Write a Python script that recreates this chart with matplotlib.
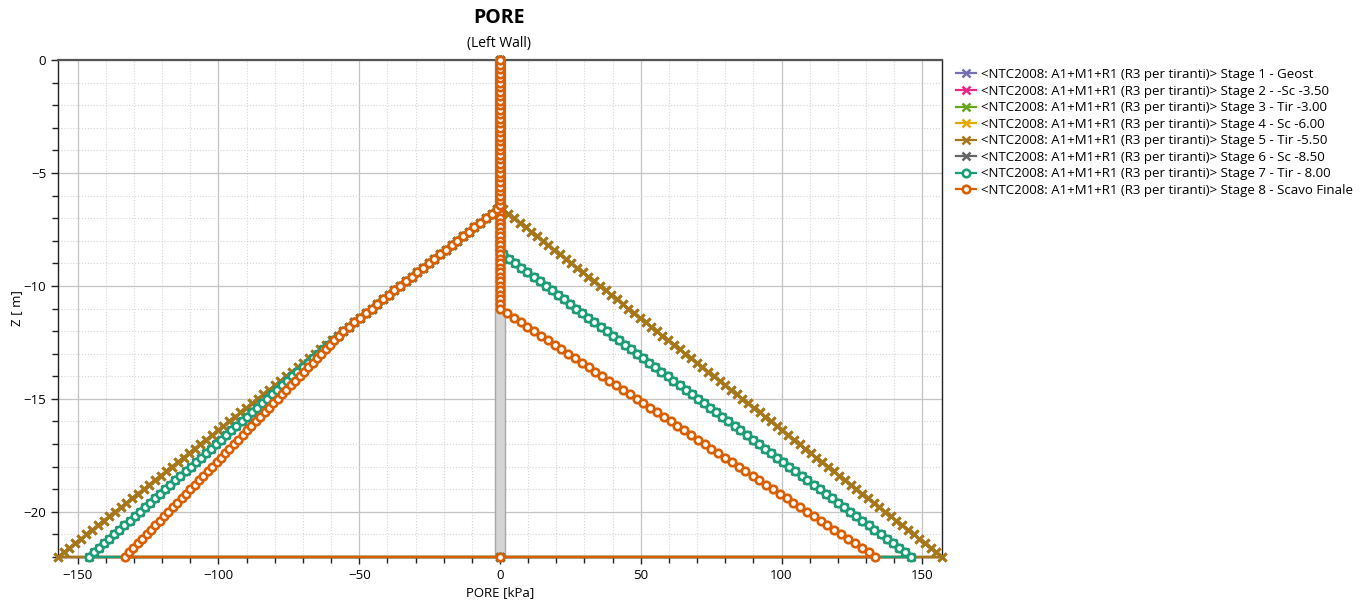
import numpy as np
import matplotlib
matplotlib.use('Agg')
import matplotlib.pyplot as plt
from matplotlib.ticker import MultipleLocator

plt.rcParams['font.family'] = ['Open Sans', 'DejaVu Sans']

# node depths along the wall [m], spacing 0.20 m
depth = np.arange(0, 22.1, 0.2)

# stage 1..5 : water at -6.50 on both sides
brown_right = [0.0] * 33 + [
    1.0, 3.0, 5.1, 7.1, 9.1, 11.1, 13.2, 15.2, 17.2, 19.2,
    21.3, 23.3, 25.3, 27.4, 29.4, 31.4, 33.4, 35.5, 37.5, 39.5,
    41.5, 43.6, 45.6, 47.6, 49.6, 51.7, 53.7, 55.7, 57.7, 59.8,
    61.8, 63.8, 65.8, 67.9, 69.9, 71.9, 73.9, 76.0, 78.0, 80.0,
    82.1, 84.1, 86.1, 88.1, 90.2, 92.2, 94.2, 96.2, 98.3, 100.3,
    102.3, 104.3, 106.4, 108.4, 110.4, 112.4, 114.5, 116.5, 118.5, 120.5,
    122.6, 124.6, 126.6, 128.7, 130.7, 132.7, 134.7, 136.8, 138.8, 140.8,
    142.8, 144.9, 146.9, 148.9, 150.9, 153.0, 155.0, 157.0]
brown_left = list(brown_right)

# stage 6, 7 : excavation side water at -8.50
teal_right = [0.0] * 43 + [
    1.1, 3.2, 5.4, 7.6, 9.7, 11.9, 14.1, 16.2, 18.4, 20.6,
    22.7, 24.9, 27.0, 29.2, 31.4, 33.5, 35.7, 37.9, 40.0, 42.2,
    44.3, 46.5, 48.7, 50.8, 53.0, 55.2, 57.3, 59.5, 61.6, 63.8,
    66.0, 68.1, 70.3, 72.5, 74.6, 76.8, 79.0, 81.1, 83.3, 85.4,
    87.6, 89.8, 91.9, 94.1, 96.3, 98.4, 100.6, 102.7, 104.9, 107.1,
    109.2, 111.4, 113.6, 115.7, 117.9, 120.0, 122.2, 124.4, 126.5, 128.7,
    130.9, 133.0, 135.2, 137.4, 139.5, 141.7, 143.8, 146.0]
teal_left = brown_right[:61] + [
    57.5, 59.3, 61.1, 62.9, 64.7, 66.5, 68.3, 70.1, 72.0, 73.8,
    75.6, 77.4, 79.2, 81.0, 82.8, 84.6, 86.4, 88.2, 90.0, 91.8,
    93.6, 95.4, 97.2, 99.0, 100.9, 102.7, 104.5, 106.3, 108.1, 109.9,
    111.7, 113.5, 115.3, 117.1, 118.9, 120.7, 122.5, 124.3, 126.1, 127.9,
    129.7, 131.6, 133.4, 135.2, 137.0, 138.8, 140.6, 142.4, 144.2, 146.0]

# stage 8 : excavation side water at -11.00
orange_right = [0.0] * 56 + [
    2.4, 4.8, 7.3, 9.7, 12.1, 14.5, 17.0, 19.4, 21.8, 24.2,
    26.7, 29.1, 31.5, 33.9, 36.4, 38.8, 41.2, 43.6, 46.0, 48.5,
    50.9, 53.3, 55.7, 58.2, 60.6, 63.0, 65.4, 67.9, 70.3, 72.7,
    75.1, 77.6, 80.0, 82.4, 84.8, 87.2, 89.7, 92.1, 94.5, 96.9,
    99.4, 101.8, 104.2, 106.6, 109.1, 111.5, 113.9, 116.3, 118.8, 121.2,
    123.6, 126.0, 128.5, 130.9, 133.3]
orange_left = brown_right[:61] + [
    57.3, 58.8, 60.4, 61.9, 63.5, 65.0, 66.6, 68.1, 69.7, 71.2,
    72.8, 74.3, 75.9, 77.4, 79.0, 80.5, 82.1, 83.6, 85.2, 86.7,
    88.3, 89.8, 91.4, 92.9, 94.5, 96.1, 97.6, 99.2, 100.7, 102.3,
    103.8, 105.4, 106.9, 108.5, 110.0, 111.6, 113.1, 114.7, 116.2, 117.8,
    119.3, 120.9, 122.4, 124.0, 125.5, 127.1, 128.6, 130.2, 131.7, 133.3]

prefix = '<NTC2008: A1+M1+R1 (R3 per tiranti)> '
stage_names = ['Stage 1 - Geost', 'Stage 2 - -Sc -3.50', 'Stage 3 - Tir -3.00',
               'Stage 4 - Sc -6.00', 'Stage 5 - Tir -5.50', 'Stage 6 - Sc -8.50',
               'Stage 7 - Tir - 8.00', 'Stage 8 - Scavo Finale']
stage_profiles = [(brown_right, brown_left)] * 5 + [(teal_right, teal_left)] * 2 + \
                 [(orange_right, orange_left)]
colors = ['#7570b3', '#e7298a', '#66a61e', '#e6ab02', '#a6761d', '#666666',
          '#1b9e77', '#d95f02']
markers = ['x'] * 6 + ['o'] * 2

wall_x = [-1.8, 1.8]
wall_z = [0, -22]

fig = plt.figure(figsize=(13.71, 6.08), dpi=100)
ax = fig.add_axes([58 / 1371, 1 - 557 / 608, 884 / 1371, 497 / 608])

# wall
ax.fill_betweenx(wall_z, wall_x[0], wall_x[1], facecolor='#d4d4d4',
                 edgecolor='#a8a8a8', lw=1, zorder=2)

for i in range(8):
    right, left = stage_profiles[i]
    right = np.array(right)
    left = np.array(left)
    # down the right face, across the toe, up the left face
    xs = np.concatenate([right, [0.0], -left[::-1]])
    zs = np.concatenate([-depth, [-depth[-1]], -depth[::-1]])
    if markers[i] == 'o':
        ax.plot(xs, zs, color=colors[i], lw=1.6, marker='o', ms=5.4, mew=1.9,
                mfc='white', mec=colors[i], label=prefix + stage_names[i],
                clip_on=False, zorder=3 + i)
    else:
        ax.plot(xs, zs, color=colors[i], lw=1.6, marker='x', ms=6.3, mew=1.8,
                label=prefix + stage_names[i], clip_on=False, zorder=3 + i)

ax.set_xlim(-157, 157)
ax.set_ylim(-22, 0)
ax.xaxis.set_major_locator(MultipleLocator(50))
ax.xaxis.set_minor_locator(MultipleLocator(10))
ax.yaxis.set_major_locator(MultipleLocator(5))
ax.yaxis.set_minor_locator(MultipleLocator(1))
ax.grid(True, which='major', color='#c4c4c4', lw=0.9, ls='-', zorder=0)
ax.grid(True, which='minor', color='#d6d6d6', lw=0.8, ls=':', zorder=0)
ax.set_axisbelow(True)
ax.tick_params(which='major', direction='out', length=5, width=1, labelsize=9.5,
               color='#222222')
ax.tick_params(which='minor', direction='out', length=4, width=1, color='#222222')
for side in ['left', 'bottom', 'right', 'top']:
    ax.spines[side].set_color('#222222')
    ax.spines[side].set_linewidth(1)
ax.spines['top'].set_color('#555555')
ax.spines['top'].set_linewidth(1.6)

ax.set_xlabel('PORE [kPa]', fontsize=9.5, labelpad=3)
ax.set_ylabel('Z [ m]', fontsize=9.5, labelpad=0)

fig.text(499 / 1371, 1 - 18 / 608, 'PORE', ha='center', va='center',
         fontsize=14, fontweight='bold')
fig.text(499 / 1371, 1 - 44 / 608, '(Left Wall)', ha='center', va='center',
         fontsize=10)

fig.legend(loc='upper left', bbox_to_anchor=(956 / 1371, 1 - 68 / 608),
           frameon=False, fontsize=9.5, handlelength=1.5, handletextpad=0.4,
           labelspacing=0.27, borderaxespad=0, borderpad=0)

fig.savefig('out.png', dpi=100)
